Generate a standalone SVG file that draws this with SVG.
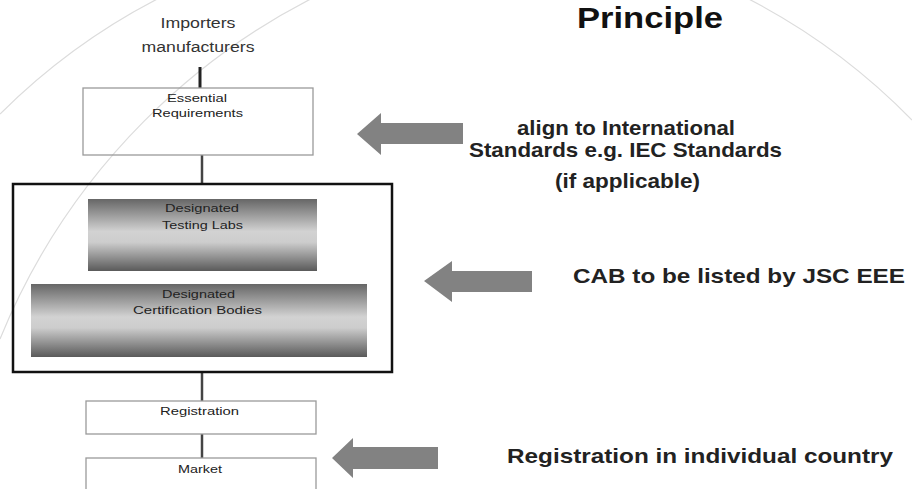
<svg xmlns="http://www.w3.org/2000/svg" width="912" height="489" viewBox="0 0 912 489">
<style>
.bg{fill:none;stroke:#dcdcdc;stroke-width:1.2}
.box{fill:none;stroke:#9a9a9a;stroke-width:1.3}
.frame{fill:none;stroke:#111;stroke-width:2.5}
.grad{fill:url(#g);stroke:none}
.conn{stroke:#444;stroke-width:2.5;fill:none}
.arr{fill:#828282}
.s{font-family:"Liberation Sans",Arial,sans-serif;font-size:10px;fill:#222;text-anchor:middle}
.m{font-family:"Liberation Sans",Arial,sans-serif;font-size:14px;fill:#333;text-anchor:middle}
.b{font-family:"Liberation Sans",Arial,sans-serif;font-size:21px;font-weight:bold;fill:#222;text-anchor:middle}
.t{font-family:"Liberation Sans",Arial,sans-serif;font-size:29px;font-weight:bold;fill:#111;text-anchor:middle}
</style>
<defs>
<linearGradient id="g" x1="0" y1="0" x2="0" y2="1">
<stop offset="0" stop-color="#666"/>
<stop offset="0.45" stop-color="#d2d2d2"/>
<stop offset="0.6" stop-color="#cdcdcd"/>
<stop offset="1" stop-color="#5a5a5a"/>
</linearGradient>
</defs>
<g id="background">
<path class="bg" d="M0,114 A642,642 0 0,1 912,120"/>
<path class="bg" d="M0,339 A664,664 0 0,1 921,0"/>
</g>
<g id="connectors">
<line class="conn" x1="200" y1="67" x2="200" y2="88" style="stroke:#222;stroke-width:3"/>
<line class="conn" x1="202" y1="155" x2="202" y2="183"/>
<line class="conn" x1="202" y1="373" x2="202" y2="401"/>
<line class="conn" x1="202" y1="434" x2="202" y2="458"/>
</g>
<g id="importers">
<text class="m" x="198" y="28" textLength="75" lengthAdjust="spacingAndGlyphs">Importers</text>
<text class="m" x="198" y="52" textLength="113" lengthAdjust="spacingAndGlyphs">manufacturers</text>
</g>
<g id="essential">
<rect class="box" x="83" y="88" width="230" height="67"/>
<text class="s" x="197" y="102" textLength="60" lengthAdjust="spacingAndGlyphs">Essential</text>
<text class="s" x="197.5" y="117" textLength="91" lengthAdjust="spacingAndGlyphs">Requirements</text>
</g>
<g id="cab-frame">
<rect class="frame" x="13" y="184" width="379" height="188"/>
</g>
<g id="testing-labs">
<rect class="grad" x="88" y="199" width="229" height="72"/>
<text class="s" x="202" y="212" textLength="74" lengthAdjust="spacingAndGlyphs">Designated</text>
<text class="s" x="202.5" y="229" textLength="81" lengthAdjust="spacingAndGlyphs">Testing Labs</text>
</g>
<g id="certification-bodies">
<rect class="grad" x="31" y="284" width="336" height="73"/>
<text class="s" x="198.5" y="298" textLength="73" lengthAdjust="spacingAndGlyphs">Designated</text>
<text class="s" x="197.5" y="314" textLength="129" lengthAdjust="spacingAndGlyphs">Certification Bodies</text>
</g>
<g id="registration">
<rect class="box" x="86" y="401" width="230" height="33"/>
<text class="s" x="199.5" y="415" textLength="79" lengthAdjust="spacingAndGlyphs">Registration</text>
</g>
<g id="market">
<rect class="box" x="86" y="458" width="230" height="40"/>
<text class="s" x="200" y="473" textLength="44" lengthAdjust="spacingAndGlyphs">Market</text>
</g>
<g id="arrows">
<polygon class="arr" points="357,134 381,113 381,123 463,123 463,144 381,144 381,155"/>
<polygon class="arr" points="424,281 452,261 452,271 532,271 532,292 452,292 452,302"/>
<polygon class="arr" points="332,458 353,438 353,447 438,447 438,469 353,469 353,478"/>
</g>
<g id="labels">
<text class="t" x="650" y="28" textLength="146" lengthAdjust="spacingAndGlyphs">Principle</text>
<text class="b" x="626" y="135" textLength="218" lengthAdjust="spacingAndGlyphs">align to International</text>
<text class="b" x="625.5" y="157" textLength="313" lengthAdjust="spacingAndGlyphs">Standards e.g. IEC Standards</text>
<text class="b" x="627.5" y="188" textLength="145" lengthAdjust="spacingAndGlyphs">(if applicable)</text>
<text class="b" x="739" y="283" textLength="332" lengthAdjust="spacingAndGlyphs">CAB to be listed by JSC EEE</text>
<text class="b" x="700" y="463" textLength="386" lengthAdjust="spacingAndGlyphs">Registration in individual country</text>
</g>
</svg>
